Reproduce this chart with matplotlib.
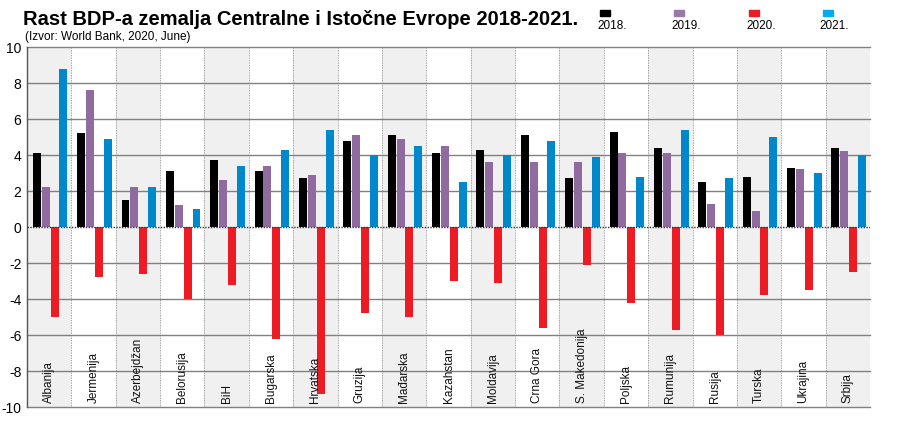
import matplotlib
matplotlib.use('Agg')
import matplotlib.pyplot as plt
import numpy as np

countries = ['Albanija', 'Jermenija', 'Azerbejdžan', 'Belorusija', 'BiH', 'Bugarska',
             'Hrvatska', 'Gruzija', 'Mađarska', 'Kazahstan', 'Moldavija', 'Crna Gora',
             'S. Makedonija', 'Poljska', 'Rumunija', 'Rusija', 'Turska', 'Ukrajina', 'Srbija']
g2018 = [4.1, 5.2, 1.5, 3.1, 3.7, 3.1, 2.7, 4.8, 5.1, 4.1, 4.3, 5.1, 2.7, 5.3, 4.4, 2.5, 2.8, 3.3, 4.4]
g2019 = [2.2, 7.6, 2.2, 1.2, 2.6, 3.4, 2.9, 5.1, 4.9, 4.5, 3.6, 3.6, 3.6, 4.1, 4.1, 1.3, 0.9, 3.2, 4.2]
g2020 = [-5.0, -2.8, -2.6, -4.0, -3.2, -6.2, -9.3, -4.8, -5.0, -3.0, -3.1, -5.6, -2.1, -4.2, -5.7, -6.0, -3.8, -3.5, -2.5]
g2021 = [8.8, 4.9, 2.2, 1.0, 3.4, 4.3, 5.4, 4.0, 4.5, 2.5, 4.0, 4.8, 3.9, 2.8, 5.4, 2.7, 5.0, 3.0, 4.0]
years = ['2018.', '2019.', '2020.', '2021.']

bar_colors = ['#000000', '#8f6b9f', '#ed1c24', '#0088cc']
legend_colors = ['#000000', '#9a78a8', '#ed1c24', '#00aeef']

plt.rcParams['font.family'] = ['Liberation Sans', 'DejaVu Sans']

fig = plt.figure(figsize=(9, 4.24), dpi=100)
ax = fig.add_axes([0.03, 0.04, 0.9367, 0.849])

n = len(countries)
x = np.arange(n)

# alternating column shading
for i in range(n):
    if i % 2 == 0:
        ax.axvspan(i - 0.5, i + 0.5, color='#f0f0f0', zorder=0, lw=0)
for i in range(1, n):
    ax.axvline(i - 0.5, color='#888888', lw=0.6, ls=(0, (1, 1)), zorder=1)

for yv in range(-10, 11, 2):
    if yv == 0:
        continue
    ax.axhline(yv, color='#808080', lw=1.0, zorder=1, clip_on=False)
ax.axhline(0, color='#333333', lw=1.0, ls=(0, (1, 1)), zorder=3)

w = 0.18
offsets = [-0.3, -0.1, 0.1, 0.3]
for vals, col, off in zip([g2018, g2019, g2020, g2021], bar_colors, offsets):
    ax.bar(x + off + 0.02, vals, width=w, color=col, zorder=2)

for i, c in enumerate(countries):
    ax.text(i, -9.75, c, rotation=90, ha='center', va='bottom', fontsize=8.5,
            color='#111111', zorder=4)

ax.set_xlim(-0.5, n - 0.5)
ax.set_ylim(-10, 10)
ax.set_yticks(range(-10, 11, 2))
ax.set_yticklabels([str(v) for v in range(-10, 11, 2)])
ax.tick_params(axis='y', length=0, labelsize=10, pad=4)
ax.set_xticks([])
for s in ['top', 'right', 'bottom']:
    ax.spines[s].set_visible(False)
ax.spines['left'].set_color('#555555')
ax.spines['left'].set_linewidth(1.0)

fig.text(0.026, 0.941, 'Rast BDP-a zemalja Centralne i Istočne Evrope 2018-2021.',
         fontsize=14.5, fontweight='bold', ha='left', va='baseline')
fig.text(0.028, 0.906, '(Izvor: World Bank, 2020, June)', fontsize=8.5,
         ha='left', va='baseline')

leg_x = [0.667, 0.749, 0.832, 0.914]
for lx, col, yr in zip(leg_x, legend_colors, years):
    fig.patches.append(plt.Rectangle((lx, 0.962), 0.011, 0.0142, color=col,
                                     transform=fig.transFigure, figure=fig))
    fig.text(lx - 0.003, 0.931, yr, fontsize=8.5, ha='left', va='baseline')

fig.savefig('out.png', dpi=100)
